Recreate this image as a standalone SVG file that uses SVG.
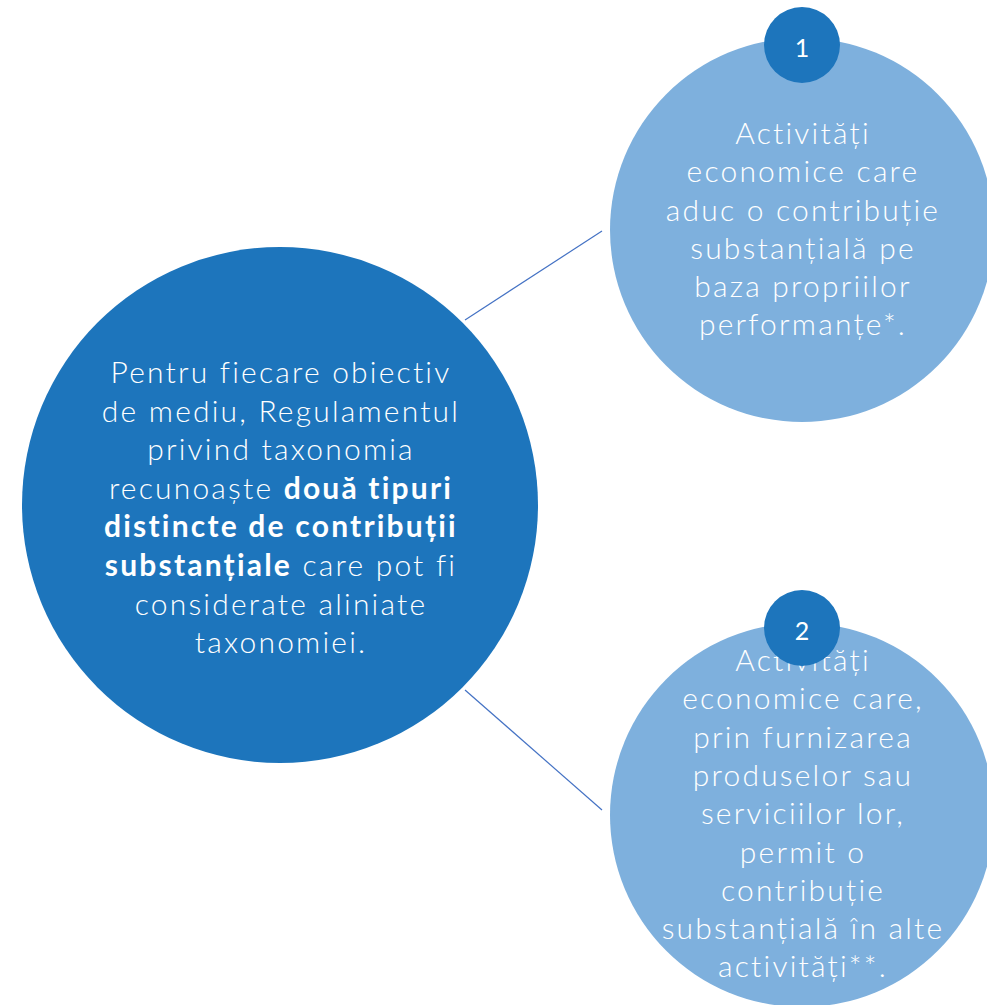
<svg xmlns="http://www.w3.org/2000/svg" width="987" height="1005" viewBox="0 0 987 1005">
<style>
.t{font-family:Lato,"Open Sans","Liberation Sans",sans-serif;font-weight:300;font-size:30px;letter-spacing:2.2px;fill:#ffffff;text-anchor:middle}
.b{font-weight:700}
.n{font-family:Lato,"Open Sans","Liberation Sans",sans-serif;font-weight:400;font-size:25px;fill:#ffffff;text-anchor:middle}
.big{fill:#1d75bc}
.light{fill:#7eb0dd}
.badge{fill:#1d75bc}
.conn{stroke:#4472c4;stroke-width:1.2;fill:none}
</style>
<rect width="987" height="1005" fill="#ffffff"/>
<g id="connectors">
<line class="conn" x1="465" y1="320" x2="602" y2="231"/>
<line class="conn" x1="465" y1="690" x2="602" y2="810"/>
</g>
<g id="main">
<circle class="big" cx="280" cy="505" r="258"/>
<text class="t" x="281" y="383">Pentru fiecare obiectiv</text>
<text class="t" x="281" y="422">de mediu, Regulamentul</text>
<text class="t" x="281" y="460">privind taxonomia</text>
<text class="t" x="281" y="499">recunoaște <tspan class="b">două tipuri</tspan></text>
<text class="t b" x="281" y="537">distincte de contribuții</text>
<text class="t" x="281" y="576"><tspan class="b">substanțiale</tspan> care pot fi</text>
<text class="t" x="281" y="615">considerate aliniate</text>
<text class="t" x="281" y="653">taxonomiei.</text>
</g>
<g id="node1">
<circle class="light" cx="802" cy="230" r="192"/>
<text class="t" x="803" y="144">Activități</text>
<text class="t" x="803" y="182">economice care</text>
<text class="t" x="803" y="221">aduc o contribuție</text>
<text class="t" x="803" y="259">substanțială pe</text>
<text class="t" x="803" y="297">baza propriilor</text>
<text class="t" x="803" y="335">performanțe*.</text>
<circle class="badge" cx="802" cy="45" r="38"/>
<text class="n" x="802" y="57">1</text>
</g>
<g id="node2">
<circle class="light" cx="802" cy="815" r="192"/>
<text class="t" x="803" y="671">Activități</text>
<text class="t" x="803" y="709">economice care,</text>
<text class="t" x="803" y="748">prin furnizarea</text>
<text class="t" x="803" y="786">produselor sau</text>
<text class="t" x="803" y="824">serviciilor lor,</text>
<text class="t" x="803" y="863">permit o</text>
<text class="t" x="803" y="901">contribuție</text>
<text class="t" x="803" y="939">substanțială în alte</text>
<text class="t" x="803" y="977">activități**.</text>
<circle class="badge" cx="802" cy="628" r="38"/>
<text class="n" x="802" y="640">2</text>
</g>
</svg>
